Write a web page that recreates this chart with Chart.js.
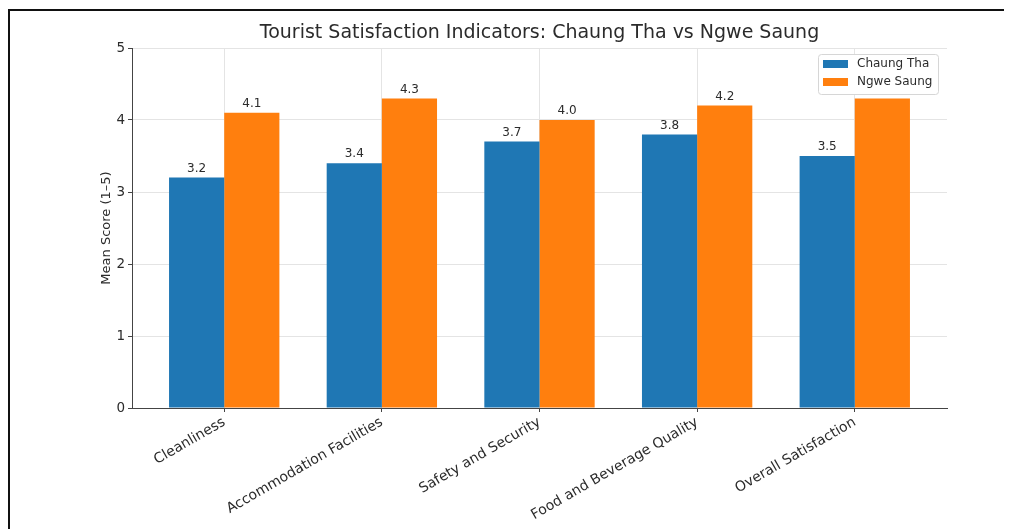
<!DOCTYPE html>
<html>
<head>
<meta charset="utf-8">
<title>Tourist Satisfaction Indicators</title>
<script src="https://cdn.jsdelivr.net/npm/chart.js@4.4.1/dist/chart.umd.min.js"></script>
<style>
    html, body { margin: 0; padding: 0; background: #fff; overflow: hidden; }
    #satisfactionChart { display: block; }
</style>
</head>
<body>
<canvas id="satisfactionChart" width="1036" height="529"></canvas>
<script>
// Survey results, mean score on a 1-5 scale
const categories = ['Cleanliness', 'Accommodation Facilities', 'Safety and Security', 'Food and Beverage Quality', 'Overall Satisfaction'];
const chaungTha = [3.2, 3.4, 3.7, 3.8, 3.5];
const ngweSaung = [4.1, 4.3, 4.0, 4.2, 4.3];
const yTicks = [0, 1, 2, 3, 4, 5];
const seriesNames = ['Chaung Tha', 'Ngwe Saung'];
const seriesColors = ['#1f77b4', '#ff7f0e'];

const FONT = 'DejaVu Sans';
const TEXT = '#2b2b2b';

// white page with a rule along the top and left edges
const pageFrame = {
    id: 'pageFrame',
    beforeDraw(chart) {
        const ctx = chart.ctx;
        ctx.save();
        ctx.fillStyle = '#fff';
        ctx.fillRect(0, 0, chart.width, chart.height);
        ctx.fillStyle = '#111';
        ctx.fillRect(8, 9, chart.width - 40, 2);
        ctx.fillRect(8, 9, 2, chart.height - 9);
        ctx.restore();
    }
};

// value printed above each bar
const barValueLabels = {
    id: 'barValueLabels',
    afterDatasetsDraw(chart) {
        const ctx = chart.ctx;
        ctx.save();
        ctx.font = '12px ' + FONT;
        ctx.fillStyle = TEXT;
        ctx.textAlign = 'center';
        ctx.textBaseline = 'bottom';
        chart.data.datasets.forEach((ds, di) => {
            chart.getDatasetMeta(di).data.forEach((bar, i) => {
                ctx.fillText(ds.data[i].y.toFixed(1), bar.x, bar.y - 3);
            });
        });
        ctx.restore();
    }
};

// title and boxed legend in the upper right of the plot
const decorations = {
    id: 'decorations',
    afterDraw(chart) {
        const ctx = chart.ctx;
        const area = chart.chartArea;
        ctx.save();
        ctx.font = '19px ' + FONT;
        ctx.fillStyle = TEXT;
        ctx.textAlign = 'center';
        ctx.textBaseline = 'middle';
        ctx.fillText('Tourist Satisfaction Indicators: Chaung Tha vs Ngwe Saung', (area.left + area.right) / 2, 33);

        const boxW = 120, boxH = 40;
        const bx = area.right - boxW - 9, by = area.top + 6;
        ctx.beginPath();
        ctx.roundRect(bx + 0.5, by + 0.5, boxW, boxH, 3);
        ctx.fillStyle = '#fff';
        ctx.fill();
        ctx.strokeStyle = '#d6d6d6';
        ctx.lineWidth = 1;
        ctx.stroke();

        ctx.font = '12px ' + FONT;
        ctx.textAlign = 'left';
        chart.data.datasets.forEach((ds, di) => {
            const cy = by + 10 + di * 18;
            ctx.fillStyle = ds.backgroundColor;
            ctx.fillRect(bx + 5, cy - 4, 25, 8);
            ctx.fillStyle = TEXT;
            ctx.fillText(ds.label, bx + 39, cy);
        });
        ctx.restore();
    }
};

const toPoints = (values) => values.map((v, i) => ({ x: i, y: v }));

new Chart(document.getElementById('satisfactionChart'), {
    type: 'bar',
    data: {
        datasets: [
            { label: seriesNames[0], data: toPoints(chaungTha), backgroundColor: seriesColors[0] },
            { label: seriesNames[1], data: toPoints(ngweSaung), backgroundColor: seriesColors[1] }
        ]
    },
    options: {
        responsive: false,
        animation: false,
        layout: { padding: { left: 99, top: 48, right: 89, bottom: 0 } },
        datasets: { bar: { barPercentage: 1.0, categoryPercentage: 0.7, borderWidth: 0 } },
        plugins: { legend: { display: false }, tooltip: { enabled: false }, title: { display: false } },
        scales: {
            x: {
                type: 'linear',
                min: -0.585,
                max: 4.585,
                offset: false,
                afterBuildTicks: (scale) => { scale.ticks = categories.map((c, i) => ({ value: i })); },
                afterFit: (scale) => { scale.height = 121; },
                grid: { color: '#e4e4e4', tickColor: '#444', tickLength: 4, offset: false },
                border: { color: '#444', width: 1 },
                ticks: {
                    autoSkip: false,
                    minRotation: 30,
                    maxRotation: 30,
                    padding: 2,
                    color: TEXT,
                    font: { family: FONT, size: 14 },
                    callback: (v) => categories[v]
                }
            },
            y: {
                min: 0,
                max: 5,
                afterBuildTicks: (scale) => { scale.ticks = yTicks.map((v) => ({ value: v })); },
                afterFit: (scale) => { scale.width = 33; },
                grid: { color: '#e4e4e4', tickColor: '#444', tickLength: 4 },
                border: { color: '#444', width: 1 },
                ticks: { padding: 3, color: TEXT, font: { family: FONT, size: 13.5 } },
                title: {
                    display: true,
                    text: 'Mean Score (1–5)',
                    color: TEXT,
                    font: { family: FONT, size: 13 },
                    padding: 0
                }
            }
        }
    },
    plugins: [pageFrame, barValueLabels, decorations]
});
</script>
</body>
</html>
